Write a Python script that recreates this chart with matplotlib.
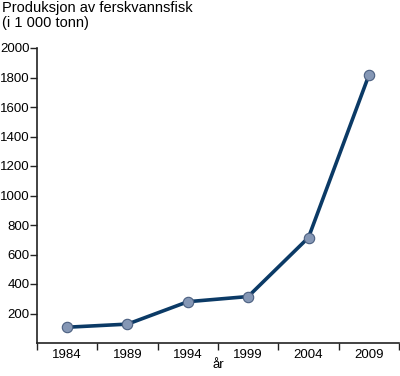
import matplotlib
matplotlib.use('Agg')
from matplotlib import pyplot as plt
import numpy as np

years = ['1984', '1989', '1994', '1999', '2004', '2009']
production = [107, 128, 280, 315, 715, 1815]

line_color = '#0b3a66'
marker_fill = '#8597b5'

plt.rcParams['font.family'] = ['Liberation Sans', 'DejaVu Sans']
plt.rcParams['font.size'] = 9.5

fig = plt.figure(figsize=(4.0, 3.76), dpi=100)
ax = fig.add_axes([37 / 400, 33 / 376, 362 / 400, 295 / 376])

x = np.arange(len(years))
ax.plot(x, production, color=line_color, linewidth=2.6, marker='o',
        markersize=7.5, markerfacecolor=marker_fill,
        markeredgecolor='#4a5f80', markeredgewidth=0.8, zorder=3)

ax.set_xlim(-0.5, len(years) - 0.5)
ax.set_ylim(0, 2000)
ax.set_yticks(range(200, 2001, 200))
ax.set_yticks([0], minor=True)

# ticks at category boundaries, labels centred in each category
ax.set_xticks(np.arange(-0.5, len(years), 1.0))
ax.set_xticklabels([])
ax.set_xticks(x, minor=True)
ax.set_xticklabels(years, minor=True)
ax.tick_params(axis='x', which='major', direction='out', length=5, width=1, color='#222222')
ax.tick_params(axis='x', which='minor', length=0, pad=4)
ax.tick_params(axis='y', which='major', direction='out', length=5, width=1, color='#222222', pad=0.5)
ax.tick_params(axis='y', which='minor', length=0)

for side in ['top', 'right']:
    ax.spines[side].set_visible(False)
for side in ['left', 'bottom']:
    ax.spines[side].set_linewidth(1.2)
    ax.spines[side].set_color('#222222')

ax.set_xlabel('år', labelpad=-1)
fig.text(2 / 400, 1 - 1 / 376, 'Produksjon av ferskvannsfisk\n(i 1 000 tonn)',
         ha='left', va='top', fontsize=10.5, linespacing=1.05)

fig.savefig('out.png', dpi=100)
